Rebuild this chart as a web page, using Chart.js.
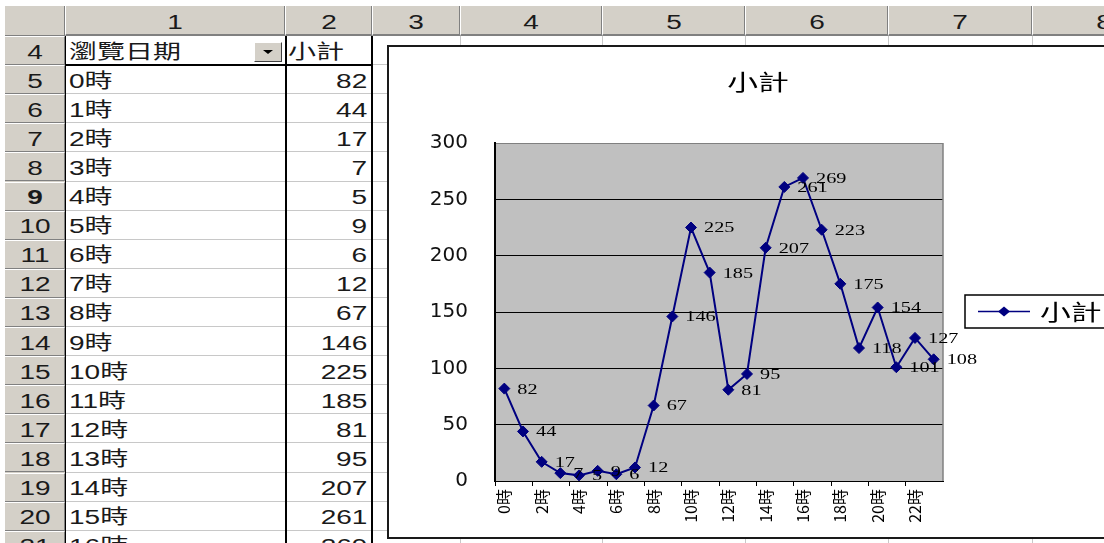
<!DOCTYPE html>
<html>
<head>
<meta charset="utf-8">
<script src="https://cdn.jsdelivr.net/npm/chart.js@4.4.0/dist/chart.umd.min.js"></script>
<style>
  html, body { margin: 0; padding: 0; background: #fff; }
  body { width: 1104px; height: 543px; overflow: hidden; position: relative;
         font-family: "Liberation Sans", "Noto Sans CJK TC", sans-serif; }
  .ab { position: absolute; box-sizing: border-box; }
  .t { position: absolute; white-space: nowrap; font-size: 20px; line-height: 20px; color: #1a1a1a; }
  #chartBox { position: absolute; left: 387px; top: 45px; width: 770px; height: 494px;
              border: 2px solid #1a1a1a; background: #fff; box-sizing: border-box; z-index: 5; }
  #chartBox canvas { position: absolute; left: 0; top: 0; }
</style>
</head>
<body>
<div id="sheet"></div>
<div id="chartBox"><canvas id="myChart" width="742" height="490"></canvas></div>
<script>
const hours = ['0時', '1時', '2時', '3時', '4時', '5時', '6時', '7時', '8時', '9時', '10時', '11時',
               '12時', '13時', '14時', '15時', '16時', '17時', '18時', '19時', '20時', '21時', '22時', '23時'];
const visits = [82, 44, 17, 7, 5, 9, 6, 12, 67, 146, 225, 185, 81, 95, 207, 261, 269, 223, 175, 118, 154, 101, 127, 108];
const seriesName = '小計';
const chartTitle = '小計';
const headerField = '瀏覽日期';
const colNames = ['1', '2', '3', '4', '5', '6', '7', '8'];
const firstRow = 4;
const lastRow = 21;

// ---- spreadsheet background ----
const sheet = document.getElementById('sheet');
const colEdges = [65, 285, 372, 460, 602, 745, 888, 1032, 1175];
const headTop = 6, headBottom = 36, rowH = 29.1;
const stretch = 1.4;

function box(x, y, w, h, css) {
  const d = document.createElement('div');
  d.className = 'ab';
  Object.assign(d.style, { left: x + 'px', top: y + 'px', width: w + 'px', height: h + 'px' }, css || {});
  sheet.appendChild(d);
  return d;
}
function text(str, x, y, align, bold) {
  const s = document.createElement('div');
  s.className = 't';
  s.textContent = str;
  s.style.top = (y - 10) + 'px';
  if (bold) s.style.fontWeight = 'bold';
  if (align === 'left') {
    s.style.left = x + 'px';
    s.style.transformOrigin = 'left center';
    s.style.transform = 'scaleX(' + stretch + ')';
  } else if (align === 'right') {
    s.style.right = (1104 - x) + 'px';
    s.style.transformOrigin = 'right center';
    s.style.transform = 'scaleX(' + stretch + ')';
  } else {
    s.style.left = x + 'px';
    s.style.transform = 'translateX(-50%) scaleX(' + stretch + ')';
  }
  sheet.appendChild(s);
}

// header strip and row header column
box(5, headTop, 1104, headBottom - headTop, { background: '#d4d0c8' });
box(5, headBottom, 60, 543 - headBottom, { background: '#d4d0c8' });
box(5, headTop, 60, headBottom - headTop, { borderRight: '1px solid #808080', borderBottom: '1px solid #808080' });

// column headers
colNames.forEach((c, i) => {
  const x0 = colEdges[i], x1 = colEdges[i + 1];
  box(x0, headTop, x1 - x0, headBottom - headTop,
      { borderLeft: '1px solid #fff', borderRight: '1px solid #808080', borderBottom: '2px solid #808080' });
  text(c, (x0 + x1) / 2, (headTop + headBottom) / 2 + 1, 'center');
});

// vertical gridlines in the cell area
colEdges.slice(1).forEach(x => box(x, headBottom, 1, 543 - headBottom, { background: '#c8c8c8' }));

// rows
for (let r = firstRow; r <= lastRow; r++) {
  const top = headBottom + (r - firstRow) * rowH;
  const mid = top + rowH / 2;
  box(5, top, 60, rowH, { borderTop: '1px solid #fff', borderBottom: '1px solid #808080', borderRight: '1px solid #808080' });
  box(65, top + rowH - 1, 1104, 1, { background: '#c8c8c8' });
  text(String(r), 35, mid + 1, 'center', r === 9);
  if (r === firstRow) {
    text(headerField, 69, mid + 1, 'left');
    text(seriesName, 288, mid + 1, 'left');
  } else {
    const i = r - firstRow - 1;
    text(hours[i], 69, mid + 1, 'left');
    text(String(visits[i]), 367, mid + 1, 'right');
  }
}

// pivot table borders
box(65, headBottom, 1, 543 - headBottom, { background: '#000' });
box(285, headBottom, 1.5, 543 - headBottom, { background: '#000' });
box(371, headBottom, 1.5, 543 - headBottom, { background: '#000' });
box(65, headBottom + rowH - 1, 307, 1.5, { background: '#000' });

// dropdown button on the field cell
const btn = box(254, 42, 28, 20, { background: '#d4d0c8', borderTop: '1px solid #fff', borderLeft: '1px solid #fff',
                                   borderRight: '1px solid #404040', borderBottom: '1px solid #404040' });
const tri = document.createElement('div');
Object.assign(tri.style, { position: 'absolute', left: '8px', top: '7px', width: 0, height: 0,
  borderLeft: '5px solid transparent', borderRight: '5px solid transparent', borderTop: '4px solid #000' });
btn.appendChild(tri);

// ---- chart ----
const navy = '#000080';

const excelLook = {
  id: 'excelLook',
  beforeDraw(chart) {
    const { ctx, chartArea: a } = chart;
    ctx.save();
    ctx.fillStyle = '#c0c0c0';
    ctx.fillRect(a.left, a.top, a.right - a.left, a.bottom - a.top);
    ctx.restore();
  },
  beforeDatasetsDraw(chart) {
    const { ctx, chartArea: a } = chart;
    ctx.save();
    ctx.strokeStyle = '#808080';
    ctx.lineWidth = 1.5;
    ctx.beginPath();
    ctx.moveTo(a.right, a.top);
    ctx.lineTo(a.right, a.bottom);
    ctx.stroke();
    ctx.restore();
  },
  afterDatasetsDraw(chart) {
    const ctx = chart.ctx;
    const meta = chart.getDatasetMeta(0);
    const data = chart.data.datasets[0].data;

    // value labels
    ctx.save();
    ctx.fillStyle = '#000';
    ctx.font = '15px "Liberation Serif"';
    ctx.textAlign = 'left';
    ctx.textBaseline = 'middle';
    meta.data.forEach((p, i) => {
      ctx.save();
      ctx.translate(p.x + 13, p.y + 1);
      ctx.scale(1.35, 1);
      ctx.fillText(String(data[i]), 0, 0);
      ctx.restore();
    });
    ctx.restore();

    // title, centred over the whole chart object
    ctx.save();
    ctx.fillStyle = '#000';
    ctx.font = '22px "Noto Sans CJK TC"';
    ctx.textAlign = 'center';
    ctx.textBaseline = 'middle';
    ctx.translate(369, 35);
    ctx.scale(1.4, 1);
    ctx.fillText(chartTitle, 0, 0);
    ctx.restore();

    // legend box
    const lx = 576, ly = 248, lh = 33, cy = ly + lh / 2;
    ctx.save();
    ctx.strokeStyle = '#000';
    ctx.lineWidth = 1.5;
    ctx.strokeRect(lx, ly, 200, lh);
    ctx.strokeStyle = navy;
    ctx.lineWidth = 1.5;
    ctx.beginPath();
    ctx.moveTo(lx + 13, cy);
    ctx.lineTo(lx + 65, cy);
    ctx.stroke();
    ctx.fillStyle = navy;
    ctx.beginPath();
    ctx.moveTo(lx + 39, cy - 5);
    ctx.lineTo(lx + 45, cy);
    ctx.lineTo(lx + 39, cy + 5);
    ctx.lineTo(lx + 33, cy);
    ctx.closePath();
    ctx.fill();
    ctx.fillStyle = '#000';
    ctx.font = '22px "Noto Sans CJK TC"';
    ctx.textAlign = 'left';
    ctx.textBaseline = 'middle';
    ctx.translate(lx + 75, cy);
    ctx.scale(1.4, 1);
    ctx.fillText(chart.data.datasets[0].label, 0, 0);
    ctx.restore();
  }
};

const ctx = document.getElementById('myChart').getContext('2d');
const myChart = new Chart(ctx, {
  type: 'line',
  data: {
    labels: hours,
    datasets: [{
      label: seriesName,
      data: visits,
      borderColor: navy,
      backgroundColor: navy,
      borderWidth: 2,
      tension: 0,
      pointStyle: 'rectRot',
      pointRadius: 5.5,
      pointBorderWidth: 1,
      pointBackgroundColor: navy,
      pointBorderColor: navy
    }]
  },
  options: {
    responsive: false,
    animation: false,
    layout: { padding: { left: 0, right: 188, top: 96, bottom: 0 } },
    plugins: {
      legend: { display: false },
      title: { display: false },
      tooltip: { enabled: false }
    },
    scales: {
      x: {
        type: 'category',
        offset: true,
        afterFit(scale) { scale.height = 56; },
        grid: {
          display: true,
          offset: true,
          drawOnChartArea: false,
          tickLength: 5,
          color: c => (c.index % 2 === 0 ? '#000' : 'rgba(0,0,0,0)')
        },
        border: { display: true, color: '#000', width: 1 },
        ticks: {
          autoSkip: false,
          maxRotation: 90,
          minRotation: 90,
          padding: 3,
          color: '#000',
          font: { family: '"Noto Sans CJK TC"', size: 16 },
          callback: (v, i) => (i % 2 === 0 ? hours[i] : '')
        }
      },
      y: {
        min: 0,
        max: 300,
        afterFit(scale) { scale.width = 106; },
        grid: {
          drawTicks: false,
          color: c => (c.tick && c.tick.value === 300 ? '#808080' : '#000'),
          lineWidth: 1
        },
        border: { display: true, color: '#000', width: 2 },
        ticks: {
          stepSize: 50,
          padding: 27,
          color: '#111',
          font: { family: '"DejaVu Sans"', size: 20 }
        }
      }
    }
  },
  plugins: [excelLook]
});
</script>
</body>
</html>
